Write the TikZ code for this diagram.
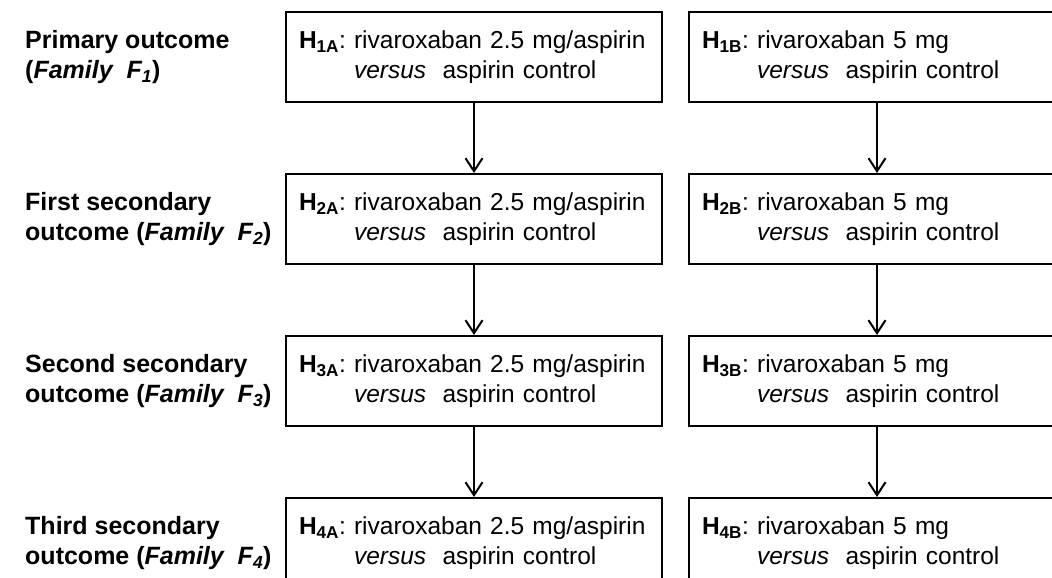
\documentclass[tikz,border=0pt]{standalone}
\usepackage{fontspec}
\setmainfont{Liberation Sans}
\usetikzlibrary{positioning,arrows.meta}

\newcommand{\hyp}[1]{\textbf{H\textsubscript{#1}}}
\newcommand{\famlabel}[1]{(\textit{Family \ F\textsubscript{#1}})}
\newcommand{\vsline}[1]{\phantom{\hyp{#1}:~}\textit{versus}~\ aspirin~control}

\tikzset{
  hbox/.style={draw, line width=2pt, minimum width=376pt, minimum height=90pt,
    text width=350pt, inner xsep=13pt, align=left,
    font=\fontsize{24.5}{30}\selectfont\frenchspacing},
  rowlabel/.style={anchor=west, inner sep=0pt, align=left,
    font=\bfseries\fontsize{25}{30}\selectfont\frenchspacing},
  flow/.style={line width=2pt, -{Straight Barb[length=13pt,width=17pt]}}
}

\begin{document}
\begin{tikzpicture}[x=1pt, y=1pt]
  \useasboundingbox (0,0) rectangle (1052,-578);
  \clip (0,0) rectangle (1052,-578);

  % hypotheses, one row per family
  \node [hbox] (a1) at (474,-57) {\hyp{1A}:~rivaroxaban~2.5~mg/aspirin\\\vsline{1A}};
  \node [hbox, right=25pt of a1] (b1) {\hyp{1B}:~rivaroxaban~5~mg\\\vsline{1B}};
  \node [hbox, below=70pt of a1] (a2) {\hyp{2A}:~rivaroxaban~2.5~mg/aspirin\\\vsline{2A}};
  \node [hbox, right=25pt of a2] (b2) {\hyp{2B}:~rivaroxaban~5~mg\\\vsline{2B}};
  \node [hbox, below=70pt of a2] (a3) {\hyp{3A}:~rivaroxaban~2.5~mg/aspirin\\\vsline{3A}};
  \node [hbox, right=25pt of a3] (b3) {\hyp{3B}:~rivaroxaban~5~mg\\\vsline{3B}};
  \node [hbox, below=70pt of a3] (a4) {\hyp{4A}:~rivaroxaban~2.5~mg/aspirin\\\vsline{4A}};
  \node [hbox, right=25pt of a4] (b4) {\hyp{4B}:~rivaroxaban~5~mg\\\vsline{4B}};

  % outcome labels
  \node [rowlabel] (f1) at (25,-57) {Primary outcome\\\famlabel{1}};
  \node [rowlabel] (f2) at (f1.west |- a2) {First secondary\\outcome \famlabel{2}};
  \node [rowlabel] (f3) at (f1.west |- a3) {Second secondary\\outcome \famlabel{3}};
  \node [rowlabel] (f4) at (f1.west |- a4) {Third secondary\\outcome \famlabel{4}};

  % testing sequence
  \draw [flow] (a1) -- (a2);
  \draw [flow] (a2) -- (a3);
  \draw [flow] (a3) -- (a4);
  \draw [flow] (b1) -- (b2);
  \draw [flow] (b2) -- (b3);
  \draw [flow] (b3) -- (b4);
\end{tikzpicture}
\end{document}
